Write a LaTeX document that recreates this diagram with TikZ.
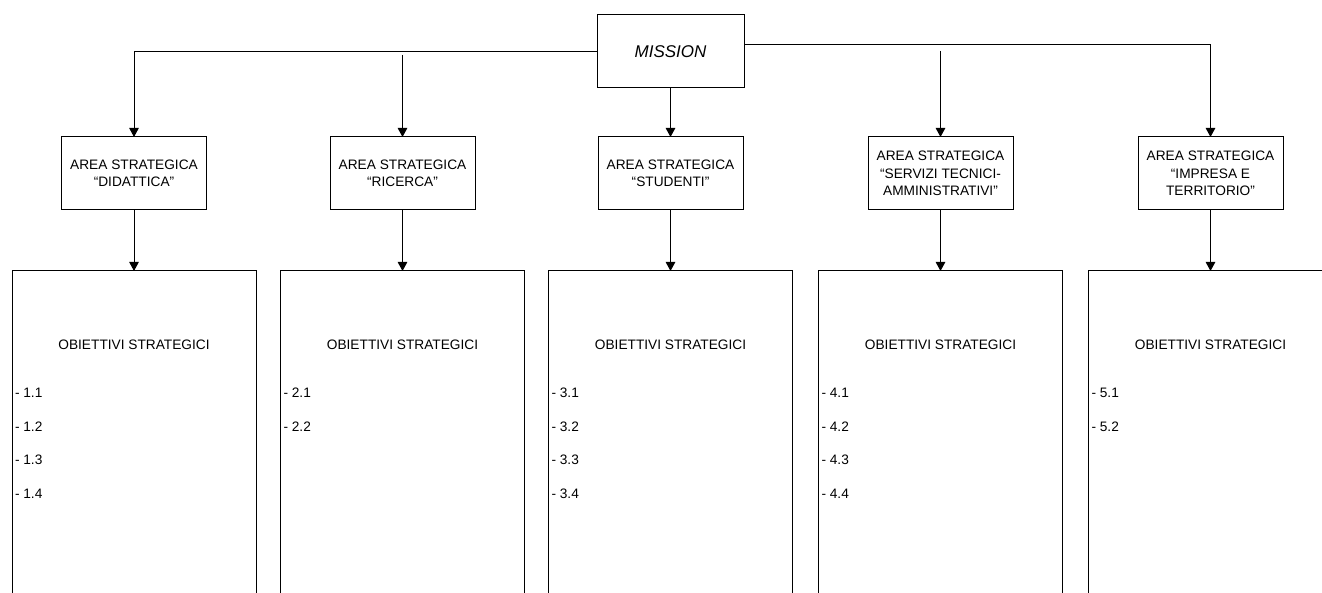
\documentclass[tikz,border=0pt]{standalone}
\usepackage{fontspec}
\setmainfont{Liberation Sans}
\usetikzlibrary{arrows.meta}
\begin{document}
\begin{tikzpicture}[x=1pt,y=-1pt,
  every node/.style={inner sep=0pt,outer sep=0pt},
  base/.style={font=\fontsize{13.7}{17.5}\selectfont},
  mbox/.style={draw,line width=1pt,minimum width=147pt,minimum height=73pt,
    font=\fontsize{17}{20}\selectfont\itshape},
  abox/.style={draw,line width=1pt,minimum width=145pt,minimum height=73pt,
    align=center,base},
  obox/.style={draw,line width=1pt,minimum width=244pt,minimum height=400pt,anchor=north},
  otitle/.style={base},
  oitem/.style={base,anchor=west},
  conn/.style={line width=1pt,-{Triangle[length=9pt,width=9.5pt]}}
]
\useasboundingbox (0,0) rectangle (1322,593);
\clip (0,0) rectangle (1322,593);

\node[mbox] (mission) at (670.5,51.5) {MISSION};

\node[abox] (a1) at (134,173.5) {AREA STRATEGICA\\“DIDATTICA”};
\node[abox] (a2) at (402.5,173.5) {AREA STRATEGICA\\“RICERCA”};
\node[abox] (a3) at (670.5,173.5) {AREA STRATEGICA\\“STUDENTI”};
\node[abox] (a4) at (940.5,173.5) {AREA STRATEGICA\\“SERVIZI TECNICI-\\AMMINISTRATIVI”};
\node[abox] (a5) at (1210.5,173.5) {AREA STRATEGICA\\“IMPRESA E\\TERRITORIO”};

\node[obox] (o1) at (134,271) {};
\node[obox] (o2) at (402.5,271) {};
\node[obox] (o3) at (670.5,271) {};
\node[obox] (o4) at (940.5,271) {};
\node[obox] (o5) at (1210.5,271) {};

\foreach \i in {1,...,5}{
  \node[otitle] (t\i) at ([yshift=-74pt]o\i.north) {OBIETTIVI STRATEGICI};
}
\foreach \i/\n in {1/4,2/2,3/4,4/4,5/2}{
  \foreach \k in {1,...,\n}{
    \node[oitem] (i\i\k) at ([xshift=3pt,yshift={-122pt-33.5pt*(\k-1)}]o\i.north west) {- \i.\k};
  }
}

\coordinate (r2) at (402.5,55);
\coordinate (r4) at (940.5,51);

\draw[conn] (mission.west) -| (a1.north);
\draw[conn] ([yshift=6.5pt]mission.east) -| (a5.north);
\draw[conn] (mission.south) -- (a3.north);
\draw[conn] (r2) -- (a2.north);
\draw[conn] (r4) -- (a4.north);

\draw[conn] (a1.south) -- (o1.north);
\draw[conn] (a2.south) -- (o2.north);
\draw[conn] (a3.south) -- (o3.north);
\draw[conn] (a4.south) -- (o4.north);
\draw[conn] (a5.south) -- (o5.north);
\end{tikzpicture}
\end{document}
